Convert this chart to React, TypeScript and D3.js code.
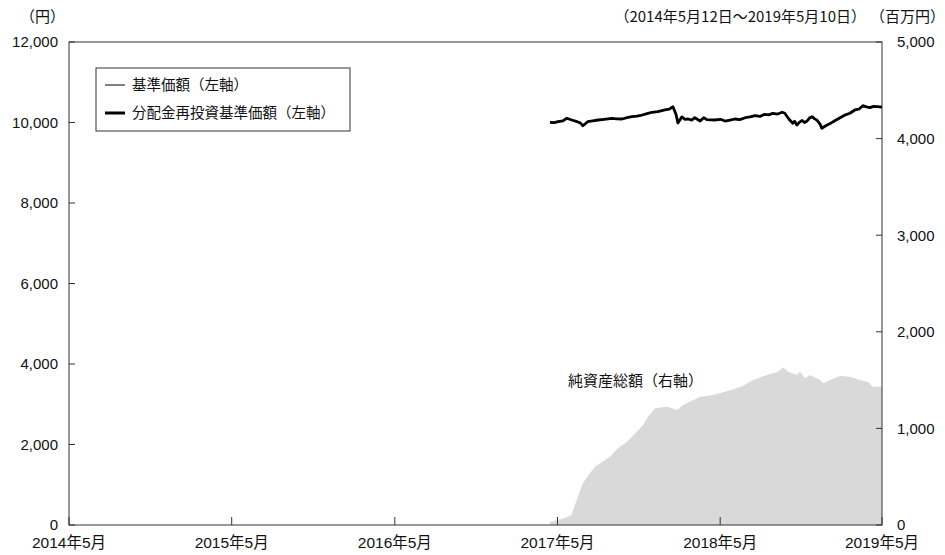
import * as d3 from 'd3';

// 基準価額 / 分配金再投資基準価額 (同値)
const navDates = [
  '2017-04-25', '2017-05-05', '2017-05-13', '2017-05-24', '2017-06-02', '2017-06-13', '2017-06-25', '2017-07-02',
  '2017-07-08', '2017-07-19', '2017-07-30', '2017-08-11', '2017-08-25', '2017-09-11', '2017-09-22', '2017-10-04',
  '2017-10-15', '2017-10-26', '2017-11-06', '2017-11-18', '2017-11-29', '2017-12-10', '2017-12-23', '2018-01-08',
  '2018-01-18', '2018-01-26', '2018-02-02', '2018-02-06', '2018-02-15', '2018-02-22', '2018-03-01', '2018-03-09',
  '2018-03-16', '2018-03-28', '2018-04-05', '2018-04-12', '2018-04-30', '2018-05-12', '2018-05-23', '2018-06-03',
  '2018-06-14', '2018-06-25', '2018-07-07', '2018-07-18', '2018-07-29', '2018-08-09', '2018-08-20', '2018-08-29',
  '2018-09-07', '2018-09-18', '2018-09-28', '2018-10-04', '2018-10-09', '2018-10-15', '2018-10-22', '2018-10-26',
  '2018-10-31', '2018-11-06', '2018-11-12', '2018-11-17', '2018-11-23', '2018-11-28', '2018-12-04', '2018-12-10',
  '2018-12-15', '2018-12-22', '2018-12-26', '2019-01-01', '2019-01-07', '2019-01-16', '2019-01-25', '2019-02-05',
  '2019-02-16', '2019-02-27', '2019-03-10', '2019-03-19', '2019-03-28', '2019-04-05', '2019-04-13', '2019-04-21',
  '2019-04-29', '2019-05-10',
];
const navValues = [
  10005, 9995, 10020, 10040, 10105, 10062, 10020, 9990,
  9920, 10020, 10040, 10062, 10080, 10105, 10090, 10087,
  10120, 10144, 10160, 10186, 10220, 10254, 10270, 10311,
  10330, 10393, 10200, 9988, 10140, 10080, 10087, 10060,
  10119, 10037, 10120, 10070, 10062, 10080, 10037, 10060,
  10087, 10070, 10119, 10140, 10169, 10150, 10204, 10190,
  10229, 10210, 10254, 10230, 10150, 10060, 9980, 10030,
  9938, 10010, 10050, 10000, 10037, 10110, 10144, 10090,
  10060, 9960, 9856, 9900, 9938, 9990, 10050, 10120,
  10186, 10230, 10311, 10330, 10418, 10390, 10368, 10400,
  10393, 10380,
];

// 純資産総額 (百万円)
const aumDates = [
  '2017-04-25', '2017-05-20', '2017-06-12', '2017-06-24', '2017-07-08', '2017-07-24', '2017-08-04', '2017-08-27',
  '2017-09-07', '2017-09-25', '2017-10-15', '2017-11-06', '2017-11-20', '2017-12-01', '2017-12-17', '2018-01-13',
  '2018-02-04', '2018-02-18', '2018-03-28', '2018-04-26', '2018-05-23', '2018-06-28', '2018-07-25', '2018-08-24',
  '2018-09-19', '2018-09-30', '2018-10-11', '2018-10-31', '2018-11-07', '2018-11-18', '2018-11-29', '2018-12-22',
  '2018-12-29', '2019-01-13', '2019-02-05', '2019-02-27', '2019-03-21', '2019-04-08', '2019-04-19', '2019-05-10',
];
const aumValues = [
  30, 60, 100, 259, 435, 538, 604, 673,
  710, 797, 862, 966, 1035, 1121, 1208, 1225,
  1190, 1242, 1328, 1346, 1380, 1430, 1501, 1553,
  1587, 1632, 1587, 1553, 1587, 1518, 1553, 1501,
  1467, 1501, 1542, 1535, 1501, 1484, 1432, 1432,
];

const xTickDates = ['2014-05-12', '2015-05-12', '2016-05-12', '2017-05-12', '2018-05-12', '2019-05-10'];
const xTickLabels = ['2014年5月', '2015年5月', '2016年5月', '2017年5月', '2018年5月', '2019年5月'];
const leftTicks = [0, 2000, 4000, 6000, 8000, 10000, 12000];
const rightTicks = [0, 1000, 2000, 3000, 4000, 5000];

const W = 945;
const H = 555;
const m = { left: 69, right: 63, top: 42, bottom: 30 };
const font = '"Liberation Sans", Arial, "Noto Sans CJK JP", sans-serif';
const jp = '"Noto Sans CJK JP", "Liberation Sans", sans-serif';

export default function App() {
  const parse = d3.utcParse('%Y-%m-%d');
  const x = d3
    .scaleUtc()
    .domain([parse('2014-05-12')!, parse('2019-05-10')!])
    .range([m.left, W - m.right]);
  const yL = d3.scaleLinear().domain([0, 12000]).range([H - m.bottom, m.top]);
  const yR = d3.scaleLinear().domain([0, 5000]).range([H - m.bottom, m.top]);

  const nav = navDates.map((d, i) => ({ date: parse(d)!, v: navValues[i] }));
  const aum = aumDates.map((d, i) => ({ date: parse(d)!, v: aumValues[i] }));

  const line = d3
    .line<{ date: Date; v: number }>()
    .x(d => x(d.date))
    .y(d => yL(d.v));
  const area = d3
    .area<{ date: Date; v: number }>()
    .x(d => x(d.date))
    .y0(yR(0))
    .y1(d => yR(d.v));

  const x0 = m.left;
  const x1 = W - m.right;
  const y0 = H - m.bottom;
  const y1 = m.top;
  const axisColor = '#333';

  return (
    <div style={{ position: 'absolute', left: 0, top: 0 }}>
      <svg width={W} height={H} style={{ display: 'block', background: '#fff' }}>
        <path d={area(aum)!} fill="#d9d9d9" />

        {/* frame */}
        <rect x={x0} y={y1} width={x1 - x0} height={y0 - y1} fill="none" stroke={axisColor} strokeWidth={1} />

        {/* x ticks */}
        {xTickDates.map((d, i) => {
          const px = x(parse(d)!);
          return (
            <g key={d}>
              <line x1={px} x2={px} y1={y0} y2={y0 - 8} stroke={axisColor} />
              <text x={px} y={y0 + 23} textAnchor="middle" fontSize={15.5} fontFamily={font} fill="#111">
                {xTickLabels[i]}
              </text>
            </g>
          );
        })}

        {/* left axis */}
        {leftTicks.map(t => (
          <g key={t}>
            <line x1={x0} x2={x0 + 6} y1={yL(t)} y2={yL(t)} stroke={axisColor} />
            <text x={x0 - 11} y={yL(t)} dy="0.36em" textAnchor="end" fontSize={15} fontFamily={font} fill="#111">
              {d3.format(',')(t)}
            </text>
          </g>
        ))}

        {/* right axis */}
        {rightTicks.map(t => (
          <g key={t}>
            <line x1={x1} x2={x1 - 6} y1={yR(t)} y2={yR(t)} stroke={axisColor} />
            <text x={x1 + 15} y={yR(t)} dy="0.36em" textAnchor="start" fontSize={15} fontFamily={font} fill="#111">
              {d3.format(',')(t)}
            </text>
          </g>
        ))}

        <text x={20} y={22} fontSize={15} fontFamily={jp} fill="#111">（円）</text>
        <text x={866} y={22} textAnchor="end" fontSize={15} fontFamily={jp} fill="#111">
          （2014年5月12日～2019年5月10日）
        </text>
        <text x={945} y={22} textAnchor="end" fontSize={15} fontFamily={jp} fill="#111">（百万円）</text>

        {/* lines */}
        <path d={line(nav)!} fill="none" stroke="#000" strokeWidth={1} />
        <path d={line(nav)!} fill="none" stroke="#000" strokeWidth={2.8} strokeLinejoin="round" />

        <text x={568} y={386} fontSize={15} fontFamily={jp} fill="#111">純資産総額（右軸）</text>

        {/* legend */}
        <rect x={96} y={68} width={254} height={63} fill="#fff" stroke={axisColor} />
        <line x1={105} x2={125} y1={85} y2={85} stroke="#000" strokeWidth={1} />
        <text x={132} y={85} dy="0.36em" fontSize={14.5} fontFamily={jp} fill="#111">基準価額（左軸）</text>
        <line x1={105} x2={125} y1={113} y2={113} stroke="#000" strokeWidth={3} />
        <text x={132} y={113} dy="0.36em" fontSize={14.5} fontFamily={jp} fill="#111">分配金再投資基準価額（左軸）</text>
      </svg>
    </div>
  );
}
